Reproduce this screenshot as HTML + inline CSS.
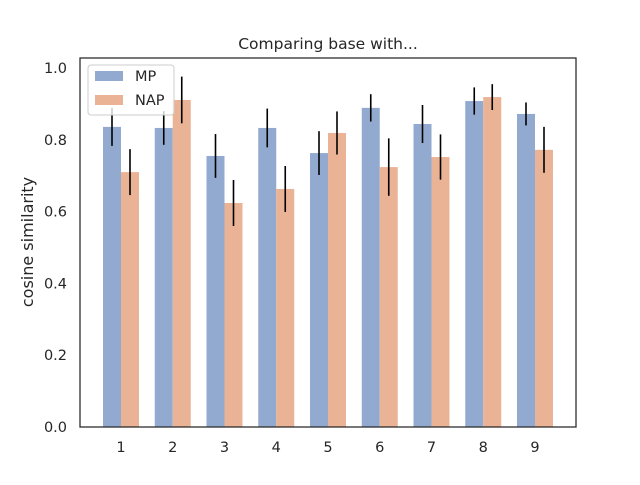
<!DOCTYPE html>
<html><head><meta charset="utf-8"><style>
body{margin:0;background:#fff;font-family:"Liberation Sans","DejaVu Sans",sans-serif}
svg text{font-family:"DejaVu Sans","Liberation Sans",sans-serif;fill:#262626}
</style></head><body>
<svg id="chart" width="640" height="480"></svg>
<script>
const categories=["1","2","3","4","5","6","7","8","9"];
const mpValues=[0.836,0.833,0.755,0.833,0.763,0.889,0.844,0.908,0.872];
const napValues=[0.710,0.911,0.624,0.663,0.819,0.724,0.752,0.919,0.772];
const mpErr=[0.053,0.047,0.061,0.054,0.061,0.038,0.053,0.038,0.032];
const napErr=[0.064,0.065,0.064,0.064,0.060,0.080,0.063,0.036,0.064];
const yTicks=[0,0.2,0.4,0.6,0.8,1.0];
const yTickLabels=["0.0","0.2","0.4","0.6","0.8","1.0"];
const NS="http://www.w3.org/2000/svg";
const svg=document.getElementById('chart');
const L=80,R=576,T=58,B=427;
function y(v){return B-v*359;}
function x(i){return 121+i*51.75;}
const bw=18;
function mk(t,a,p){const e=document.createElementNS(NS,t);for(const k in a)e.setAttribute(k,a[k]);(p||svg).appendChild(e);return e;}
const title=mk('text',{x:328,y:49,'text-anchor':'middle','font-size':15.5});title.textContent="Comparing base with...";


categories.forEach((c,i)=>{
 const b1=mk('rect',{x:x(i)-bw,y:y(mpValues[i]),width:bw,height:B-y(mpValues[i]),fill:'#93aad0'});
 
 
 const b2=mk('rect',{x:x(i),y:y(napValues[i]),width:bw,height:B-y(napValues[i]),fill:'#ebb395'});
 
 
 const e1=mk('line',{x1:x(i)-bw/2,x2:x(i)-bw/2,y1:y(mpValues[i]+mpErr[i]),y2:y(mpValues[i]-mpErr[i]),stroke:'#000','stroke-width':1.6});
 
 
 const e2=mk('line',{x1:x(i)+bw/2,x2:x(i)+bw/2,y1:y(napValues[i]+napErr[i]),y2:y(napValues[i]-napErr[i]),stroke:'#000','stroke-width':1.6});
 
 
 const t=mk('text',{x:x(i),y:452,'text-anchor':'middle','font-size':14.5});t.textContent=c;
 
 
});
yTicks.forEach((v,i)=>{
 const t=mk('text',{x:67,y:y(v)+5,'text-anchor':'end','font-size':14.5});t.textContent=yTickLabels[i];
 
 
});
const frame=mk('rect',{x:L,y:T,width:R-L,height:B-T,fill:'none',stroke:'#262626','stroke-width':1.25});


const yl=mk('text',{x:0,y:0,'text-anchor':'middle','font-size':16,transform:'translate(33,242) rotate(-90)'});yl.textContent="cosine similarity";


const lg=mk('g',{});


mk('rect',{x:88,y:65,width:86,height:50,rx:3,fill:'#fff','fill-opacity':0.8,stroke:'#ccc'},lg);
mk('rect',{x:95,y:71,width:28,height:10,fill:'#93aad0'},lg);
mk('rect',{x:95,y:95,width:28,height:10,fill:'#ebb395'},lg);
const l1=mk('text',{x:135,y:81,'font-size':14.5},lg);l1.textContent="MP";


const l2=mk('text',{x:135,y:105,'font-size':14.5},lg);l2.textContent="NAP";


</script>
</body></html>
